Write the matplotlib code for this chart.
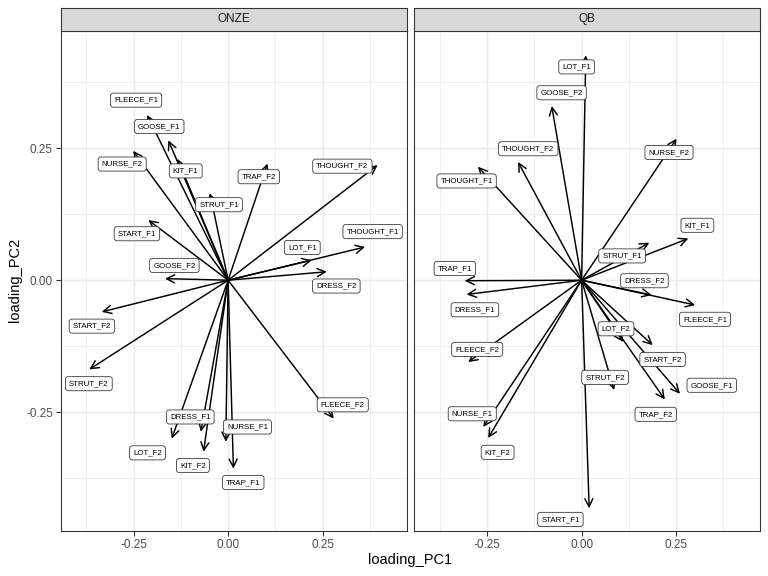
import numpy as np
import matplotlib
matplotlib.use("Agg")
import matplotlib.pyplot as plt

plt.rcParams['font.family'] = ['Liberation Sans', 'DejaVu Sans']

# loadings per variety (arrow tips)
onze_names = ["FLEECE_F1", "GOOSE_F1", "KIT_F1", "NURSE_F2", "STRUT_F1", "TRAP_F2",
              "THOUGHT_F2", "START_F1", "GOOSE_F2", "THOUGHT_F1", "LOT_F1", "DRESS_F2",
              "START_F2", "STRUT_F2", "FLEECE_F2", "DRESS_F1", "LOT_F2", "NURSE_F1",
              "KIT_F2", "TRAP_F1"]
onze_pc1 = [-0.214, -0.158, -0.134, -0.251, -0.048, 0.104, 0.395, -0.211, -0.167, 0.362,
            0.221, 0.261, -0.334, -0.367, 0.279, -0.072, -0.149, -0.006, -0.065, 0.014]
onze_pc2 = [0.313, 0.265, 0.230, 0.245, 0.165, 0.221, 0.218, 0.114, 0.003, 0.063,
            0.038, 0.016, -0.060, -0.169, -0.262, -0.287, -0.300, -0.306, -0.325, -0.357]

qb_names = ["LOT_F1", "GOOSE_F2", "THOUGHT_F2", "THOUGHT_F1", "NURSE_F2", "KIT_F1",
            "STRUT_F1", "TRAP_F1", "DRESS_F1", "DRESS_F2", "FLEECE_F1", "LOT_F2",
            "START_F2", "FLEECE_F2", "STRUT_F2", "TRAP_F2", "GOOSE_F1", "NURSE_F1",
            "KIT_F2", "START_F1"]
qb_pc1 = [0.011, -0.079, -0.168, -0.274, 0.251, 0.282, 0.179, -0.309, -0.304, 0.185,
          0.300, 0.110, 0.188, -0.300, 0.086, 0.220, 0.260, -0.260, -0.247, 0.020]
qb_pc2 = [0.426, 0.330, 0.224, 0.215, 0.268, 0.079, 0.071, -0.001, -0.027, -0.028,
          -0.047, -0.117, -0.123, -0.155, -0.208, -0.226, -0.215, -0.278, -0.299, -0.432]

# where the repelled labels ended up (layout, not data)
onze_lab_x = [-0.243, -0.182, -0.112, -0.280, -0.024, 0.081, 0.302, -0.241, -0.142, 0.382,
              0.196, 0.286, -0.360, -0.368, 0.303, -0.100, -0.213, 0.051, -0.093, 0.040]
onze_lab_y = [0.341, 0.291, 0.207, 0.220, 0.143, 0.196, 0.216, 0.088, 0.028, 0.092,
              0.062, -0.011, -0.087, -0.196, -0.236, -0.259, -0.327, -0.278, -0.351, -0.383]
qb_lab_x = [-0.013, -0.053, -0.141, -0.304, 0.231, 0.306, 0.107, -0.335, -0.282, 0.166,
            0.326, 0.091, 0.214, -0.276, 0.062, 0.196, 0.344, -0.289, -0.222, -0.056]
qb_lab_y = [0.404, 0.355, 0.249, 0.188, 0.242, 0.104, 0.046, 0.022, -0.056, -0.001,
            -0.074, -0.092, -0.150, -0.131, -0.184, -0.254, -0.199, -0.253, -0.326, -0.453]

facets = [("ONZE", onze_names, onze_pc1, onze_pc2, onze_lab_x, onze_lab_y),
          ("QB", qb_names, qb_pc1, qb_pc2, qb_lab_x, qb_lab_y)]

fig = plt.figure(figsize=(8, 6), dpi=96)
W, H = 768, 576
xlim = (-0.443, 0.472)
ylim = (-0.475, 0.472)
lefts = [60.5, 414]
pw = 346.2
top, bottom = 31, 531
strip_h = 23.3

for i, (title, names, pc1, pc2, lx, ly) in enumerate(facets):
    ax = fig.add_axes([lefts[i] / W, (H - bottom) / H, pw / W, (bottom - top) / H])
    ax.set_xlim(*xlim)
    ax.set_ylim(*ylim)
    ax.set_xticks([-0.25, 0, 0.25])
    ax.set_xticklabels(["-0.25", "0.00", "0.25"])
    ax.set_yticks([-0.25, 0, 0.25])
    ax.set_yticklabels(["-0.25", "0.00", "0.25"])
    ax.set_xticks([-0.375, -0.125, 0.125, 0.375], minor=True)
    ax.set_yticks([-0.375, -0.125, 0.125, 0.375], minor=True)
    ax.grid(which='major', color='#EBEBEB', lw=1.07)
    ax.grid(which='minor', color='#EBEBEB', lw=0.53)
    ax.set_axisbelow(True)
    ax.tick_params(which='minor', length=0)
    ax.tick_params(which='major', length=3.7, width=0.8, color='#333333',
                   labelsize=8.8, labelcolor='#4D4D4D', pad=2)
    if i > 0:
        ax.tick_params(axis='y', length=0, labelleft=False)
    for s in ax.spines.values():
        s.set_color('#333333')
        s.set_linewidth(0.8)

    for n, x, y, tx, ty in zip(names, pc1, pc2, lx, ly):
        ax.annotate("", xy=(x, y), xytext=(0, 0),
                    arrowprops=dict(arrowstyle="->,head_length=0.5,head_width=0.25",
                                    color='black', lw=1.1, shrinkA=0, shrinkB=0,
                                    mutation_scale=12))
    for n, x, y, tx, ty in zip(names, pc1, pc2, lx, ly):
        ax.text(tx, ty, n, fontsize=5.9, ha='center', va='center', color='black',
                bbox=dict(boxstyle='round,pad=0.45,rounding_size=0.35', fc='white',
                          ec='#333333', lw=0.6), zorder=5)

    sax = fig.add_axes([lefts[i] / W, (H - top) / H, pw / W, strip_h / H])
    sax.set_facecolor('#D9D9D9')
    sax.set_xticks([])
    sax.set_yticks([])
    for s in sax.spines.values():
        s.set_color('#333333')
        s.set_linewidth(0.8)
    sax.text(0.5, 0.5, title, ha='center', va='center', fontsize=8.8,
             color='#1A1A1A', transform=sax.transAxes)

fig.text(410 / W, 1 - 560 / H, "loading_PC1", ha='center', va='center', fontsize=11)
fig.text(15 / W, 1 - 280 / H, "loading_PC2", ha='center', va='center', fontsize=11,
         rotation=90)

fig.savefig("out.png", dpi=96)
